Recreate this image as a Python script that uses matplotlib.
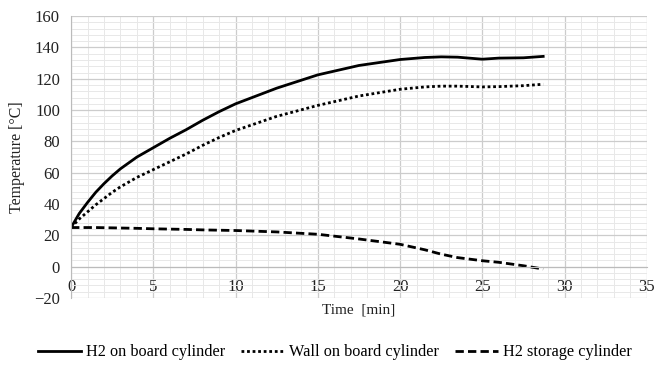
import matplotlib
matplotlib.use('Agg')
import matplotlib.pyplot as plt
from matplotlib.ticker import MultipleLocator

plt.rcParams['font.family'] = ['Liberation Serif', 'DejaVu Serif']

# time [min]
time_min = [0, 0.5, 1, 1.5, 2, 2.5, 3, 4, 5, 6, 7, 8, 9, 10, 12.5, 15, 17.5, 20, 21.5, 22.5,
            23.5, 25, 26, 27.5, 28.7]
# temperatures [°C]
h2_on_board = [25, 34, 41, 47.5, 53, 58, 62.5, 70, 76, 82, 87.5, 93.5, 99, 104, 114, 122.5,
               128.5, 132.3, 133.6, 134, 133.8, 132.5, 133.2, 133.4, 134.3]
wall_on_board = [25, 30.5, 35, 39.5, 43.5, 47.5, 51, 57, 62, 67, 72, 77.5, 82.5, 87, 96, 103,
                 109, 113.3, 114.8, 115.3, 115.3, 114.8, 115, 115.6, 116.5]
h2_storage = [25, 25, 25, 25, 24.9, 24.8, 24.7, 24.5, 24.2, 24, 23.8, 23.5, 23.3, 23.1, 22.2,
              20.7, 17.7, 14.3, 10.8, 8, 5.8, 3.8, 2.8, 0.6, -1.5]

labels = ['H2 on board cylinder', 'Wall on board cylinder', 'H2 storage cylinder']

fig = plt.figure(figsize=(6.58, 3.67), dpi=100)
ax = fig.add_axes([0.108, 0.188, 0.875, 0.768])

ax.plot(time_min, h2_on_board, color='black', lw=2.0, label=labels[0])
ax.plot(time_min, wall_on_board, color='black', lw=2.0, linestyle=(0, (1, 1)), label=labels[1])
ax.plot(time_min, h2_storage, color='black', lw=2.0, linestyle=(0, (3, 1.5)), label=labels[2])

ax.set_xlim(0, 35)
ax.set_ylim(-20, 160)
ax.xaxis.set_major_locator(MultipleLocator(5))
ax.xaxis.set_minor_locator(MultipleLocator(1))
ax.yaxis.set_major_locator(MultipleLocator(20))
ax.yaxis.set_minor_locator(MultipleLocator(4))

ax.grid(which='major', color='#cccccc', lw=0.9)
ax.grid(which='minor', color='#e8e8e8', lw=0.7)
ax.set_axisbelow(True)

for side in ['top', 'right']:
    ax.spines[side].set_visible(False)
ax.spines['left'].set_color('#bbbbbb')
ax.spines['bottom'].set_color('#bbbbbb')
ax.spines['bottom'].set_position(('data', 0))

ax.tick_params(which='both', length=0, labelsize=12, colors='#222222')
ax.tick_params(axis='y', pad=8)
ax.tick_params(axis='x', pad=9)

ax.set_xlabel('Time  [min]', fontsize=11, color='#222222')
ax.xaxis.set_label_coords(0.5, -0.02)
ax.set_ylabel('Temperature [°C]', fontsize=11.5, color='#222222')
ax.yaxis.set_label_coords(-0.08, 0.5)

fig.legend(loc='center', bbox_to_anchor=(0.509, 0.04), ncol=3, frameon=False,
           fontsize=11.7, handlelength=2.65, handletextpad=0.3, columnspacing=1.0)

fig.savefig('out.png', dpi=100)
